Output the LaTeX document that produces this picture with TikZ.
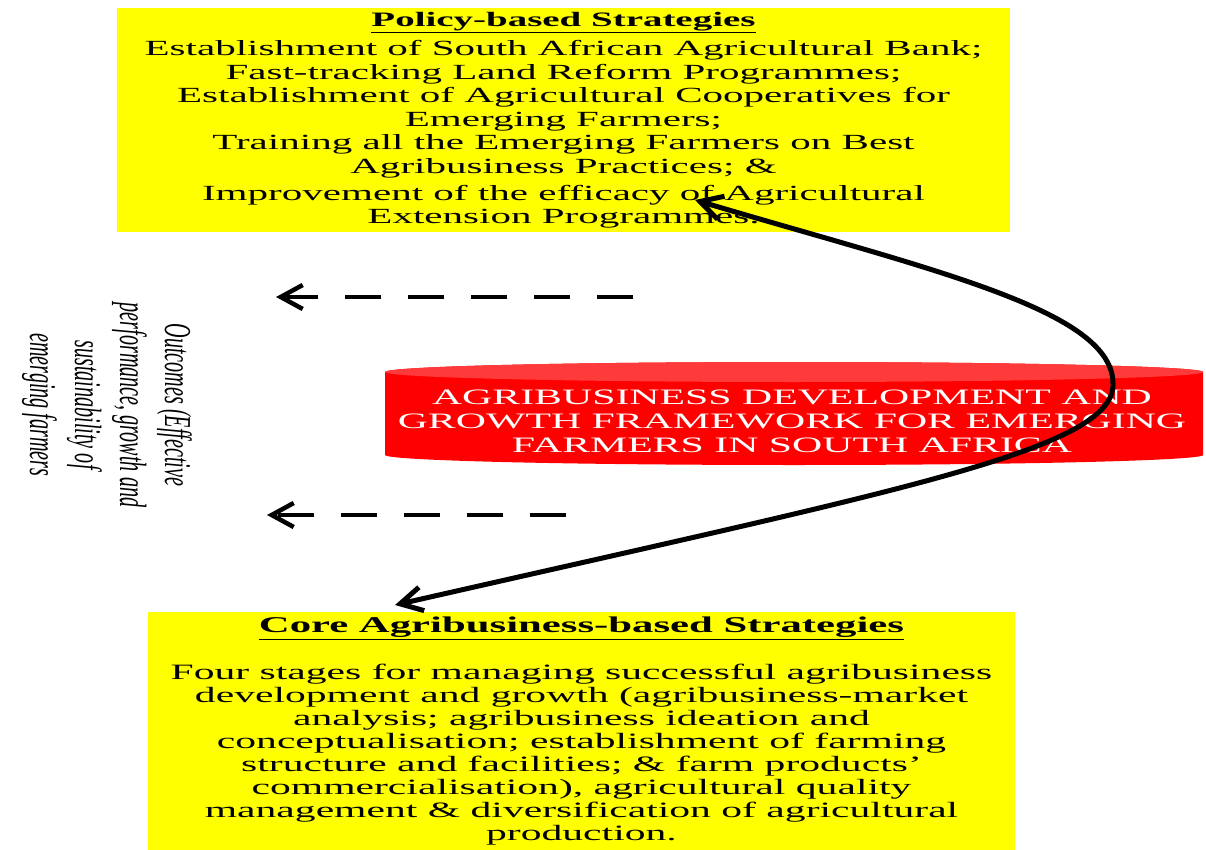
\documentclass[tikz,border=0pt]{standalone}
\usepackage{fontspec}
\usetikzlibrary{arrows.meta}
\newfontfamily\wideserif[FakeStretch=1.9, Ligatures=TeX]{Liberation Serif}
\newfontfamily\narrowserif[FakeStretch=0.53]{Liberation Serif}
\definecolor{stratyellow}{HTML}{FFFF00}
\definecolor{frameworkred}{HTML}{FF0000}
\definecolor{frameworktop}{HTML}{FF3A3A}
\tikzset{
	stratbox/.style={fill=stratyellow, inner sep=0pt, align=center, text=black},
	barb/.style={-{Straight Barb[length=22pt,width=24pt]}, line width=4.5pt},
	dashflow/.style={barb, dash pattern=on 36pt off 27pt},
}

\begin{document}
\begin{tikzpicture}[x=1pt, y=-1pt]
			%%%%% START %%%%%
			\useasboundingbox (0, 0) rectangle (1206, 850);
			
			% policy box
			\node[stratbox, minimum width=893pt, minimum height=224pt, font=\wideserif\fontsize{21.6}{23.5}\selectfont] (policy) at (563.5, 120) {%
				{\bfseries\fontsize{20.5}{23.5}\selectfont\underline{Policy-based Strategies}}\\[6pt]
				Establishment of South African Agricultural Bank;\\
				Fast-tracking Land Reform Programmes;\\
				Establishment of Agricultural Cooperatives for\\
				Emerging Farmers;\\
				Training all the Emerging Farmers on Best\\
				Agribusiness Practices; \&\\[3.5pt]
				Improvement of the efficacy of Agricultural\\
				Extension Programmes.};
			
			% core box
			\node[stratbox, minimum width=867pt, minimum height=238pt, font=\wideserif\fontsize{21.9}{23}\selectfont] (core) at (581.5, 731) {%
				{\bfseries\fontsize{22.5}{23}\selectfont\underline{Core Agribusiness-based Strategies}}\\[24pt]
				Four stages for managing successful agribusiness\\
				development and growth (agribusiness-market\\
				analysis; agribusiness ideation and\\
				conceptualisation; establishment of farming\\
				structure and facilities; \& farm products’\\
				commercialisation), agricultural quality\\
				management \& diversification of agricultural\\
				production.};
			
			% framework cylinder
			\fill[frameworkred] (385, 372) -- (385, 455) arc[start angle=180, end angle=0, x radius=409, y radius=10]
				-- (1203, 372) arc[start angle=0, end angle=-180, x radius=409, y radius=10] -- cycle;
			\fill[frameworktop] (794, 372) ellipse[x radius=409, y radius=10];
			\node[align=center, text=white, font=\wideserif\fontsize{22}{24}\selectfont] (framework) at (792, 421) {AGRIBUSINESS DEVELOPMENT AND\\GROWTH FRAMEWORK FOR EMERGING\\FARMERS IN SOUTH AFRICA};
			
			% outcomes
			\node[rotate=-90, align=center, font=\narrowserif\itshape\fontsize{38}{45}\selectfont] (outcomes) at (107, 405) {Outcomes (Effective\\performance, growth and\\sustainability of\\emerging farmers};
			
			% dashed outcome arrows
			\coordinate (upperfrom) at (633, 297);
			\coordinate (upperto) at (276, 297);
			\draw[dashflow] (upperfrom) -- (upperto);
			\coordinate (lowerfrom) at (566, 515);
			\coordinate (lowerto) at (267, 515);
			\draw[dashflow] (lowerfrom) -- (lowerto);
			
			% feedback loop
			\coordinate (policytip) at (695, 200);
			\coordinate (coretip) at (395, 605);
			\draw[barb, line width=5pt, {Straight Barb[length=22pt,width=24pt]}-{Straight Barb[length=22pt,width=24pt]}] (coretip) .. controls (900, 490) and (1112, 450) .. (1113, 385)
				.. controls (1115, 310) and (930, 270) .. (policytip);
			
			%%%%% END %%%%%
\end{tikzpicture}
\end{document}
